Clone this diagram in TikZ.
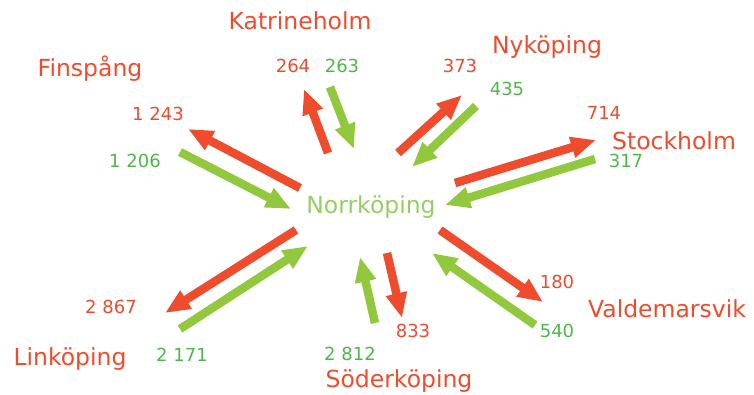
\documentclass[tikz,border=0pt]{standalone}
\usepackage{fontspec}
\setmainfont{DejaVu Sans}
\usetikzlibrary{arrows.meta}
\definecolor{flowred}{RGB}{239,75,45}
\definecolor{flowgreen}{RGB}{146,200,62}
\definecolor{numgreen}{RGB}{77,184,72}
\definecolor{hubgreen}{RGB}{150,205,100}
\tikzset{
    city/.style = {anchor=base, inner sep=0, text=flowred, font=\fontsize{23.5}{28}\selectfont},
    hub/.style = {anchor=base, inner sep=0, text=hubgreen, font=\fontsize{23.5}{28}\selectfont},
    numr/.style = {anchor=base, inner sep=0, text=flowred, font=\fontsize{18}{21}\selectfont},
    numg/.style = {anchor=base, inner sep=0, text=numgreen, font=\fontsize{18}{21}\selectfont},
    edger/.style = {-{Triangle[length=25pt,width=20pt]}, line width=8.5pt, flowred},
    edgeg/.style = {-{Triangle[length=25pt,width=20pt]}, line width=8.5pt, flowgreen},
}
\begin{document}
\begin{tikzpicture}[x=1pt,y=-1pt]
\useasboundingbox (0,0) rectangle (754,394);
% places
\node[hub] at (371,213) (nkp) {Norrköping};
\node[city] at (300,29) (kat) {Katrineholm};
\node[city] at (90,76) (fin) {Finspång};
\node[city] at (547,53) (nyk) {Nyköping};
\node[city] at (674,149) (sth) {Stockholm};
\node[city] at (667,317) (val) {Valdemarsvik};
\node[city] at (399,387) (sod) {Söderköping};
\node[city] at (70,365) (lin) {Linköping};
% numbers
\node[numr] at (293,72) (katout) {264};
\node[numg] at (342,72) (katin) {263};
\node[numr] at (158,120) (finout) {1 243};
\node[numg] at (135,167) (finin) {1 206};
\node[numr] at (460,72) (nykout) {373};
\node[numg] at (507,95) (nykin) {435};
\node[numr] at (604,119) (sthout) {714};
\node[numg] at (626,167) (sthin) {317};
\node[numr] at (557,288) (valout) {180};
\node[numg] at (557,337) (valin) {540};
\node[numr] at (413,337) (sodout) {833};
\node[numg] at (350,360) (sodin) {2 812};
\node[numr] at (111,313) (linout) {2 867};
\node[numg] at (182,361) (linin) {2 171};
% arrow ends
\coordinate (fr1) at (300,188); \coordinate (fr2) at (188,129);
\coordinate (fg1) at (180,152); \coordinate (fg2) at (291,209);
\coordinate (kr1) at (328,153); \coordinate (kr2) at (304,89);
\coordinate (kg1) at (330,87);  \coordinate (kg2) at (354,149);
\coordinate (nr1) at (398,153); \coordinate (nr2) at (462,95);
\coordinate (ng1) at (476,106); \coordinate (ng2) at (412,167);
\coordinate (sr1) at (455,183); \coordinate (sr2) at (596,140);
\coordinate (sg1) at (595,159); \coordinate (sg2) at (445,205);
\coordinate (lr1) at (296,230); \coordinate (lr2) at (165,313);
\coordinate (lg1) at (180,329); \coordinate (lg2) at (308,246);
\coordinate (dg1) at (375,323); \coordinate (dg2) at (360,257);
\coordinate (dr1) at (387,253); \coordinate (dr2) at (402,318);
\coordinate (vr1) at (440,230); \coordinate (vr2) at (543,302);
\coordinate (vg1) at (535,325); \coordinate (vg2) at (432,253);
%
\draw[edger] (fr1) -- (fr2);
\draw[edgeg] (fg1) -- (fg2);
\draw[edger] (kr1) -- (kr2);
\draw[edgeg] (kg1) -- (kg2);
\draw[edger] (nr1) -- (nr2);
\draw[edgeg] (ng1) -- (ng2);
\draw[edger] (sr1) -- (sr2);
\draw[edgeg] (sg1) -- (sg2);
\draw[edger] (lr1) -- (lr2);
\draw[edgeg] (lg1) -- (lg2);
\draw[edgeg] (dg1) -- (dg2);
\draw[edger] (dr1) -- (dr2);
\draw[edger] (vr1) -- (vr2);
\draw[edgeg] (vg1) -- (vg2);

\end{tikzpicture}
\end{document}
